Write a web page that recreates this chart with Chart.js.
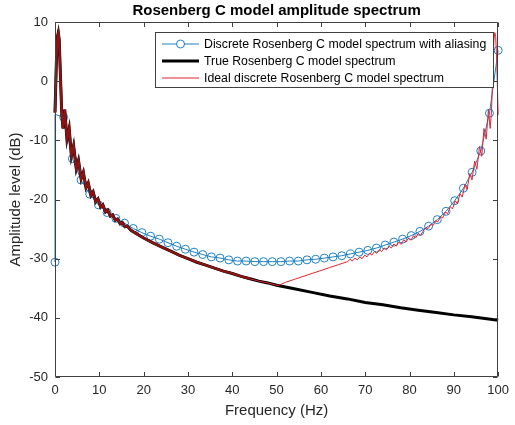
<!DOCTYPE html>
<html>
<head>
<meta charset="utf-8">
<title>Rosenberg C model amplitude spectrum</title>
<script src="https://cdn.jsdelivr.net/npm/chart.js@4.4.1/dist/chart.umd.min.js"></script>
<style>
  html, body { margin: 0; padding: 0; background: #fff; }
  canvas { display: block; }
</style>
</head>
<body>
<canvas id="chart" width="515" height="425"></canvas>
<script>
// ── Data ──────────────────────────────────────────────────────────

// Discrete spectrum with aliasing: bins spaced fs/51.
// The 2nd entry is the top of the vertical jump at 0 Hz (no marker there).
const discreteFreq = [0, 0, 1.96, 3.92, 5.88, 7.84, 9.80, 11.76, 13.73, 15.69, 17.65,
    19.61, 21.57, 23.53, 25.49, 27.45, 29.41, 31.37, 33.33, 35.29, 37.25, 39.22,
    41.18, 43.14, 45.10, 47.06, 49.02, 50.98, 52.94, 54.90, 56.86, 58.82, 60.78,
    62.75, 64.71, 66.67, 68.63, 70.59, 72.55, 74.51, 76.47, 78.43, 80.39, 82.35,
    84.31, 86.27, 88.24, 90.20, 92.16, 94.12, 96.08, 98.04, 100.0];
const discreteDb = [-30.6, -5.6, -6.1, -13.1, -16.7, -19.1, -20.9, -22.2, -23.2, -24.0, -24.9,
    -25.6, -26.2, -26.7, -27.3, -27.9, -28.4, -28.9, -29.3, -29.7, -29.9, -30.2,
    -30.4, -30.4, -30.5, -30.5, -30.5, -30.5, -30.4, -30.4, -30.2, -30.1, -29.9,
    -29.7, -29.5, -29.2, -28.9, -28.6, -28.2, -27.7, -27.2, -26.7, -26.1, -25.4,
    -24.5, -23.4, -22.0, -20.2, -18.1, -15.4, -11.8, -5.4, 5.2];

// True (continuous) Rosenberg C spectrum
const trueFreq = [0, 0.3, 0.55, 0.75, 0.95, 1.2, 1.5, 1.8, 2.2, 2.7, 3.2, 3.7, 4.2, 4.8,
    5.3, 5.9, 6.4, 7.0, 7.5, 8.1, 8.6, 9.2, 9.7, 10.3, 10.8, 11.4, 11.9, 12.5, 13.0,
    13.6, 14.1, 14.7, 15.2, 15.8, 16.3, 17.0, 18, 20, 22, 24, 26, 28, 30, 32, 34, 36,
    38, 40, 42, 44, 46, 48, 50, 54, 58, 62, 66, 70, 74, 78, 82, 86, 90, 94, 97, 100];
const trueDb = [-5.3, 3.0, 7.5, 8.2, 7.0, 1.5, -5.0, -8.0, -4.8, -9.8, -8.0, -12.6, -10.9, -14.8,
    -13.4, -16.5, -15.4, -18.0, -17.2, -19.3, -18.7, -20.4, -19.9, -21.3, -20.9, -22.1, -21.8, -22.8, -22.6,
    -23.5, -23.3, -24.1, -23.9, -24.6, -24.5, -25.1, -25.6, -26.5, -27.3, -28.0, -28.7, -29.4, -30.0, -30.6, -31.1, -31.6,
    -32.1, -32.5, -33.0, -33.4, -33.8, -34.1, -34.5, -35.1, -35.7, -36.3, -36.8, -37.4, -37.8, -38.3, -38.7, -39.1, -39.5, -39.8, -40.1, -40.4];

// Ideal discrete spectrum: equals the true one below fs/2, these points above it
const idealHighFreq = [50.5, 52, 54, 56, 58, 60, 62, 64, 66, 66.6, 67.1, 67.7, 68.2, 68.8, 69.3,
    69.9, 70.4, 71.0, 71.5, 72.1, 72.6, 73.2, 73.7, 74.3, 74.8, 75.4, 75.9, 76.5, 77.0, 77.6,
    78.1, 78.7, 79.2, 79.8, 80.3, 80.9, 81.4, 82.0, 82.5, 83.0, 83.7, 84.2, 84.8, 85.3, 85.9,
    86.4, 87.0, 87.5, 88.1, 88.6, 89.2, 89.7, 90.3, 90.8, 91.4, 91.9, 92.5, 93.0, 93.6, 94.1,
    94.7, 95.2, 95.8, 96.3, 96.8, 97.3, 97.8, 98.2, 98.5, 98.8, 99.05, 99.25, 99.45, 99.7, 100];
const idealHighDb = [-34.5, -34.0, -33.5, -33.0, -32.5, -32.0, -31.5, -31.0, -30.5, -30.1, -30.4, -29.9, -30.2, -29.7, -30.0,
    -29.4, -29.7, -29.1, -29.4, -28.8, -29.1, -28.5, -28.8, -28.2, -28.5, -27.9, -28.2, -27.5, -27.9, -27.2,
    -27.6, -26.8, -27.2, -26.5, -26.9, -26.1, -26.5, -25.7, -26.1, -25.4, -24.8, -24.9, -24.2, -24.4, -23.6,
    -23.8, -22.9, -23.1, -22.1, -22.4, -21.2, -21.6, -20.2, -20.7, -19.0, -19.6, -17.5, -18.3, -15.6, -16.7,
    -13.5, -14.9, -11.0, -12.7, -8.0, -9.8, -4.8, -8.0, -5.0, 1.5, 7.0, 8.2, 7.5, 3.0, -5.7];

const xTicks = [0, 10, 20, 30, 40, 50, 60, 70, 80, 90, 100];
const yTicks = [10, 0, -10, -20, -30, -40, -50];

const seriesLabels = [
    'Discrete Rosenberg C model spectrum with aliasing',
    'True Rosenberg C model spectrum',
    'Ideal discrete Rosenberg C model spectrum',
];

// ── Styles ────────────────────────────────────────────────────────
const FONT       = '"Liberation Sans", Arial, Helvetica, sans-serif';
const TEXT_COLOR = '#262626';
const AXIS_COLOR = '#404040';
const BLUE  = '#1f80c4';
const BLACK = '#000000';
const RED   = '#e3232f';

const toXY = (xs, ys) => xs.map((x, i) => ({ x, y: ys[i] }));

const discretePts = toXY(discreteFreq, discreteDb);
const truePts     = toXY(trueFreq, trueDb);
const idealPts    = truePts.filter(p => p.x <= 50).concat(toXY(idealHighFreq, idealHighDb));

// Axes box, inward ticks, titles and legend the MATLAB way
const matlabFrame = {
    id: 'matlabFrame',
    afterDatasetsDraw(chart) {
        const { ctx, chartArea: a, scales: { x, y } } = chart;
        const L = Math.round(a.left) + 0.5, R = Math.round(a.right) - 0.5;
        const T = Math.round(a.top) + 0.5,  B = Math.round(a.bottom) - 0.5;
        const tl = 4.5;

        ctx.save();
        ctx.strokeStyle = AXIS_COLOR;
        ctx.lineWidth = 1;
        ctx.beginPath();
        ctx.rect(L, T, R - L, B - T);
        xTicks.forEach(v => {
            const px = Math.round(x.getPixelForValue(v)) + 0.5;
            ctx.moveTo(px, B); ctx.lineTo(px, B - tl);
            ctx.moveTo(px, T); ctx.lineTo(px, T + tl);
        });
        yTicks.forEach(v => {
            const py = Math.round(y.getPixelForValue(v)) + 0.5;
            ctx.moveTo(L, py); ctx.lineTo(L + tl, py);
            ctx.moveTo(R, py); ctx.lineTo(R - tl, py);
        });
        ctx.stroke();

        // titles
        ctx.fillStyle = '#000';
        ctx.textAlign = 'center';
        ctx.textBaseline = 'middle';
        ctx.font = 'bold 15px ' + FONT;
        ctx.fillText('Rosenberg C model amplitude spectrum', (a.left + a.right) / 2, 11);

        ctx.fillStyle = TEXT_COLOR;
        ctx.font = '15px ' + FONT;
        ctx.fillText('Frequency (Hz)', (a.left + a.right) / 2, 411);
        ctx.save();
        ctx.translate(16, (a.top + a.bottom) / 2);
        ctx.rotate(-Math.PI / 2);
        ctx.fillText('Amplitude level (dB)', 0, 0);
        ctx.restore();

        // legend
        const box = { x: 155.5, y: 32.5, w: 338, h: 55 };
        ctx.fillStyle = '#fff';
        ctx.fillRect(box.x, box.y, box.w, box.h);
        ctx.strokeStyle = AXIS_COLOR;
        ctx.strokeRect(box.x, box.y, box.w, box.h);

        const rows = [44, 61, 78];
        const x0 = 162, x1 = 199;
        ctx.lineCap = 'butt';

        ctx.strokeStyle = BLUE; ctx.lineWidth = 1;
        ctx.beginPath(); ctx.moveTo(x0, rows[0]); ctx.lineTo(x1, rows[0]); ctx.stroke();
        ctx.fillStyle = '#fff';
        ctx.beginPath(); ctx.arc((x0 + x1) / 2, rows[0], 4, 0, Math.PI * 2); ctx.fill(); ctx.stroke();

        ctx.strokeStyle = BLACK; ctx.lineWidth = 3;
        ctx.beginPath(); ctx.moveTo(x0, rows[1]); ctx.lineTo(x1, rows[1]); ctx.stroke();

        ctx.strokeStyle = RED; ctx.lineWidth = 1;
        ctx.beginPath(); ctx.moveTo(x0, rows[2]); ctx.lineTo(x1, rows[2]); ctx.stroke();

        ctx.fillStyle = '#000';
        ctx.textAlign = 'left';
        ctx.font = '12.3px ' + FONT;
        seriesLabels.forEach((s, i) => ctx.fillText(s, 204, rows[i] + 0.5));
        ctx.restore();
    },
};

new Chart(document.getElementById('chart'), {
    type: 'line',
    data: {
        // drawn first-on-top: red over black over blue
        datasets: [
            {
                label: seriesLabels[2],
                data: idealPts,
                borderColor: RED,
                borderWidth: 1,
                pointRadius: 0,
                tension: 0,
                clip: false,
                // where it lies on the black curve the overlap reads as dark red
                segment: {
                    borderWidth: c => (c.p1.parsed.x <= 45 ? 2.4 : 1),
                    borderColor: c => (c.p1.parsed.x <= 45 ? '#8a1414' : RED),
                },
            },
            {
                label: seriesLabels[1],
                data: truePts,
                borderColor: BLACK,
                borderWidth: 3,
                pointRadius: 0,
                tension: 0,
                clip: false,
            },
            {
                label: seriesLabels[0],
                data: discretePts,
                borderColor: BLUE,
                borderWidth: 1,
                pointStyle: 'circle',
                pointRadius: c => (c.dataIndex === 1 ? 0 : 4),
                pointBorderColor: BLUE,
                pointBorderWidth: 1,
                pointBackgroundColor: 'rgba(0,0,0,0)',
                tension: 0,
                clip: false,
            },
        ],
    },
    options: {
        responsive: false,
        animation: false,
        devicePixelRatio: 1,
        layout: { padding: { top: 22, right: 11, left: 0, bottom: 0 } },
        plugins: {
            legend: { display: false },
            title: { display: false },
            tooltip: { enabled: false },
        },
        scales: {
            x: {
                type: 'linear',
                min: 0,
                max: 100,
                afterFit: s => { s.height = 48; },
                afterBuildTicks: s => { s.ticks = xTicks.map(v => ({ value: v })); },
                grid: { display: false, drawTicks: false },
                border: { display: false },
                ticks: {
                    autoSkip: false,
                    maxRotation: 0,
                    padding: 6,
                    color: TEXT_COLOR,
                    font: { family: FONT, size: 13 },
                },
            },
            y: {
                type: 'linear',
                min: -50,
                max: 10,
                afterFit: s => { s.width = 55; },
                afterBuildTicks: s => { s.ticks = yTicks.map(v => ({ value: v })); },
                grid: { display: false, drawTicks: false },
                border: { display: false },
                ticks: {
                    autoSkip: false,
                    padding: 7,
                    color: TEXT_COLOR,
                    font: { family: FONT, size: 13 },
                },
            },
        },
    },
    plugins: [matlabFrame],
});
</script>
</body>
</html>
